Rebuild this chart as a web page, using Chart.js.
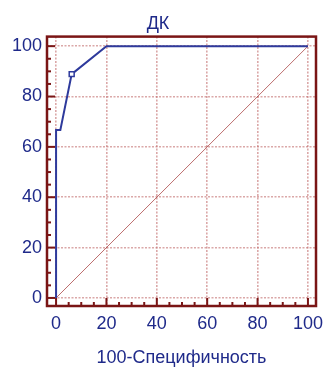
<!DOCTYPE html>
<html>
<head>
<meta charset="utf-8">
<script src="https://cdn.jsdelivr.net/npm/chart.js@4/dist/chart.umd.min.js"></script>
<style>
  html, body { margin: 0; padding: 0; background: #fff; }
  #wrap { width: 325px; height: 367px; }
</style>
</head>
<body>
<div id="wrap"><canvas id="roc"></canvas></div>
<script>
// ROC curve
const fpr = [0, 0, 1.7, 6.2, 20, 100];          // 100-Специфичность
const tpr = [0, 66.7, 66.7, 88.9, 100, 100];    // Чувствительность
const markerAt = [false, false, false, true, false, false];

// reference diagonal
const diagX = [0, 100];
const diagY = [0, 100];

// tick values (labels every 20, minor ticks every 5)
const tickValues = [0, 5, 10, 15, 20, 25, 30, 35, 40, 45, 50, 55, 60, 65, 70, 75, 80, 85, 90, 95, 100];
const labelValues = [0, 20, 40, 60, 80, 100];

const navy = '#1f2a8a';
const frameRed = '#7a1515';
const gridRed = 'rgba(195, 110, 110, 0.6)';
const fontFamily = 'Liberation Sans, Arial, sans-serif';

const isMajor = v => labelValues.includes(v);

// frame + inward tick marks
const framePlugin = {
  id: 'frame',
  afterDraw(chart) {
    const { ctx, chartArea: a, scales } = chart;
    ctx.save();
    ctx.strokeStyle = frameRed;
    ctx.lineWidth = 2;
    tickValues.forEach(v => {
      const len = isMajor(v) ? 8 : 4;
      const y = scales.y.getPixelForValue(v);
      ctx.beginPath(); ctx.moveTo(a.left, y); ctx.lineTo(a.left + len, y); ctx.stroke();
      const x = scales.x.getPixelForValue(v);
      ctx.beginPath(); ctx.moveTo(x, a.bottom); ctx.lineTo(x, a.bottom - len); ctx.stroke();
    });
    ctx.lineWidth = 2.5;
    ctx.strokeRect(a.left, a.top, a.right - a.left, a.bottom - a.top);
    ctx.restore();
  }
};

const axisCommon = {
  type: 'linear',
  afterBuildTicks: scale => { scale.ticks = tickValues.map(v => ({ value: v })); },
  grid: {
    drawTicks: false,
    color: c => (c.tick && isMajor(c.tick.value)) ? gridRed : 'rgba(0,0,0,0)',
    lineWidth: 1.6
  },
  border: { display: false, dash: [2, 1.5] },
  ticks: {
    autoSkip: false,
    maxRotation: 0,
    color: navy,
    font: { family: fontFamily, size: 18 },
    callback: v => isMajor(v) ? String(v) : ''
  }
};

new Chart(document.getElementById('roc'), {
  type: 'scatter',
  data: {
    datasets: [
      {
        label: 'ДК',
        data: fpr.map((x, i) => ({ x: x, y: tpr[i] })),
        showLine: true,
        borderColor: '#2e3a9c',
        borderWidth: 2,
        pointStyle: 'rect',
        pointRadius: markerAt.map(m => m ? 3.5 : 0),
        pointBorderWidth: 1.5,
        pointBorderColor: '#2e3a9c',
        pointBackgroundColor: '#ffffff',
        order: 1
      },
      {
        label: 'diag',
        data: diagX.map((x, i) => ({ x: x, y: diagY[i] })),
        showLine: true,
        borderColor: 'rgba(165, 60, 60, 0.75)',
        borderWidth: 1,
        pointRadius: 0,
        order: 2
      }
    ]
  },
  options: {
    responsive: true,
    maintainAspectRatio: false,
    animation: false,
    layout: { padding: { left: 0, right: 9, top: 0, bottom: 0 } },
    plugins: {
      legend: { display: false },
      tooltip: { enabled: false },
      title: {
        display: true,
        text: 'ДК',
        color: navy,
        font: { family: fontFamily, size: 18, weight: 'normal' },
        padding: { top: 13, bottom: 2 }
      }
    },
    scales: {
      x: Object.assign({}, axisCommon, {
        position: 'bottom',
        min: -3.6,
        max: 103.2,
        ticks: Object.assign({}, axisCommon.ticks, { padding: 7 }),
        title: {
          display: true,
          text: '100-Специфичность',
          color: navy,
          font: { family: fontFamily, size: 18 },
          padding: { top: 4, bottom: -2 }
        },
        afterFit: s => { s.height = 61; s.paddingLeft = 0; s.paddingRight = 0; }
      }),
      y: Object.assign({}, axisCommon, {
        position: 'left',
        min: -3.2,
        max: 103.8,
        ticks: Object.assign({}, axisCommon.ticks, { padding: 5 }),
        afterFit: s => { s.width = 47; s.paddingTop = 0; s.paddingBottom = 0; }
      })
    }
  },
  plugins: [framePlugin]
});
</script>
</body>
</html>
